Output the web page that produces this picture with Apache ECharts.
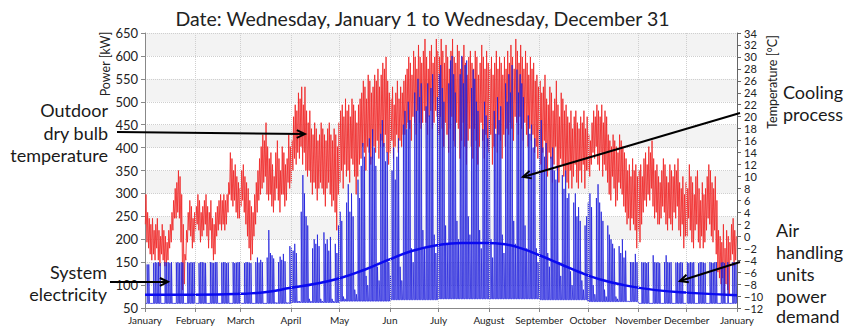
<!DOCTYPE html>
<html><head><meta charset="utf-8">
<script src="https://cdn.jsdelivr.net/npm/echarts@6/dist/echarts.min.js"></script>
<style>html,body{margin:0;padding:0;background:#fff}#c{width:845px;height:327px}</style>
</head><body><div id="c"></div>
<script>
const monthStarts=[0,31,59,90,120,151,181,212,243,273,304,334,365];
const monthLabels=['January','February','March','April','May','Jun','July','August','September','October','November','December','January'];

// Outdoor dry bulb temperature, daily high / low [°C]
const tempHigh=[
7,4,3,2,3,1,2,3,1,0,2,1,0,-1,1,2,4,6,8,9,11,10,7,2,-3,1,4,6,5,3,4,
5,7,6,4,5,6,7,5,4,6,3,2,4,5,6,7,6,7,6,7,9,14,13,11,12,10,9,8,
11,12,10,9,8,6,5,4,7,9,11,13,15,17,16,19,15,13,14,12,10,14,16,13,11,15,14,12,13,17,15,
16,20,22,21,24,23,25,22,25,21,19,21,18,17,19,18,16,17,19,18,17,16,18,19,17,16,18,17,15,19,
21,22,20,23,21,22,20,23,22,21,19,22,23,24,26,25,23,27,26,24,25,27,26,28,25,27,29,28,30,26,24,
23,25,22,24,26,23,25,24,26,27,28,30,29,27,31,30,28,32,30,29,31,33,30,28,31,32,29,30,33,31,
30,33,31,29,32,30,28,31,33,30,29,32,31,28,30,32,29,27,30,31,29,28,31,30,27,29,32,30,28,31,29,
28,30,27,29,31,28,30,29,27,30,28,31,29,32,30,28,33,31,29,32,30,28,31,29,27,30,28,29,26,27,25,
26,24,25,27,23,22,25,24,21,23,26,22,20,24,23,21,22,20,19,21,18,20,21,19,18,20,19,21,18,20,
17,16,19,21,20,22,21,20,22,19,21,20,17,16,15,17,16,15,14,17,16,15,14,13,11,12,10,13,11,12,10,
11,12,10,13,14,12,15,14,16,13,11,12,10,9,11,13,12,10,9,12,11,10,12,11,13,9,8,10,7,9,
8,12,10,9,7,10,11,8,6,9,7,8,10,12,11,9,8,10,6,1,0,-1,2,-2,1,0,-1,2,3,1,0];
const tempLow=[
2,-1,-2,-3,-4,-3,-4,-2,-4,-5,-3,-4,-5,-5,-4,-2,-1,1,3,3,4,3,-1,-9,-8,-4,-1,1,0,-2,-1,
1,2,1,-1,0,1,2,0,-2,1,-2,-4,-3,0,1,2,1,2,1,2,4,7,6,5,6,4,3,3,
5,6,4,2,0,-2,-4,-3,0,2,4,6,7,8,9,10,7,6,7,5,4,6,8,6,4,7,7,5,6,9,8,
9,11,13,12,14,13,15,12,14,11,10,11,9,7,9,8,6,8,9,8,7,5,8,9,7,5,6,4,1,7,
9,11,8,12,10,11,9,13,12,10,7,10,12,13,15,14,11,15,14,12,13,15,14,16,13,15,16,15,17,14,12,
14,16,13,15,17,14,16,15,17,17,18,19,18,16,20,19,17,21,19,18,19,21,19,17,20,21,18,19,21,20,
17,20,18,15,19,17,14,18,20,16,15,19,18,13,16,19,15,12,16,18,15,13,18,16,12,15,19,16,13,17,15,
14,17,12,15,18,14,17,16,13,17,15,18,17,19,18,16,20,19,17,20,18,16,19,17,15,18,16,17,14,15,13,
15,12,14,16,11,10,14,13,9,12,15,11,9,13,12,10,11,9,8,11,8,10,12,9,8,11,9,12,8,11,
11,10,12,14,13,15,12,11,14,10,12,11,9,7,6,10,8,5,6,9,8,7,5,4,2,3,1,3,2,1,-2,
1,-1,2,4,6,5,7,6,8,5,3,4,2,2,3,5,4,2,1,3,2,1,4,3,5,1,0,2,-2,0,
0,3,1,-1,-2,1,2,-1,-2,0,-2,-1,1,3,2,0,-1,1,-3,-6,-7,-8,-7,-10,-8,-9,-10,-4,-3,-5,-4];

// Air handling units power demand, daily peak [kW] (Jan 1 = Wednesday)
const powerPeak=[
60,145,145,60,60,
148,150,149,150,148,60,60, 150,149,150,148,150,60,60, 149,150,148,150,149,60,60, 150,148,150,149,150,60,60,
148,150,150,149,148,60,60, 150,149,148,150,150,60,60, 149,150,150,148,149,60,60, 150,148,149,150,150,60,60,
148,150,150,149,148,60,60, 150,160,149,155,150,60,60, 160,220,170,165,158,62,62, 150,162,155,168,152,62,62,
185,180,175,190,170,65,65, 260,340,300,250,230,70,65, 180,200,190,210,185,70,65, 215,190,200,175,205,70,65,
190,170,230,260,240,75,70, 280,320,260,300,250,90,80, 330,290,360,410,380,120,100, 420,380,440,400,360,140,110,
430,460,410,370,390,150,120, 350,400,330,380,420,140,110, 450,480,440,500,460,180,150, 520,480,550,510,540,220,180,
490,540,470,530,560,210,170, 510,560,580,530,500,230,190, 540,590,600,560,520,240,200, 560,600,540,580,590,250,210,
530,570,550,500,480,220,180, 440,500,470,420,460,200,160, 480,430,510,460,490,210,170, 540,500,560,520,580,240,190,
570,520,560,540,510,230,180, 470,430,450,400,420,180,150, 440,460,400,380,410,170,140, 380,400,350,330,360,150,120,
340,310,350,290,300,130,100, 280,300,250,270,240,110,90, 230,250,280,300,270,100,80, 290,320,280,260,240,90,75,
230,210,200,190,180,75,70, 185,170,200,160,175,65,62, 150,150,150,168,150,60,60, 150,149,150,148,150,60,60,
165,150,149,150,148,60,60, 150,165,150,149,150,60,60, 149,150,148,150,149,60,60, 150,148,150,149,150,60,60,
148,150,150,149,148,60,60, 150,149,148,150,150,60,60, 149,150,148,60,150,60,60,
150,150,148];
// night-time base load per month [kW]
const powerBase=[60,60,60,62,65,68,70,70,68,64,60,60];

// System electricity, smoothed [kW]
const avgDays=[0,30,60,75,90,105,120,135,150,165,180,195,210,222,232,244,256,268,280,295,315,336,365];
const avgPower=[79,79,81,85,94,103,115,133,155,175,187,192,192,189,180,164,146,128,113,100,89,83,78];

function monthOf(d){let m=0;while(m<11&&d>=monthStarts[m+1])m++;return m;}
const tempData=[];
for(let d=0;d<365;d++){tempData.push([d+0.2,tempLow[d]]);tempData.push([d+0.62,tempHigh[d]]);}
const powerData=[];
for(let d=0;d<365;d++){
  const b=powerBase[monthOf(d)],p=powerPeak[d];
  if(p>b){powerData.push([d+0.28,b],[d+0.32,p],[d+0.74,p],[d+0.78,b]);}
  else powerData.push([d+0.5,b]);
}
const avgData=avgDays.map((d,i)=>[d,avgPower[i]]);

const FONT='Lato';
const chart=echarts.init(document.getElementById('c'),null,{renderer:'svg'});
chart.setOption({
  animation:false,
  textStyle:{fontFamily:FONT},
  title:{text:'Date: Wednesday, January 1 to Wednesday, December 31',left:'center',top:3,
    textStyle:{fontFamily:FONT,fontSize:19.5,fontWeight:'normal',color:'#222'}},
  grid:{left:145,right:108,top:33,bottom:19},
  xAxis:{type:'value',min:0,max:365,
    axisLine:{show:true,onZero:false,lineStyle:{color:'#888'}},
    axisTick:{show:true,length:4,customValues:monthStarts,lineStyle:{color:'#888'}},
    axisLabel:{customValues:monthStarts,fontSize:10,color:'#222',margin:7,hideOverlap:false,
      formatter:v=>{const i=monthStarts.indexOf(Math.round(v));return i>=0?monthLabels[i]:'';}},
    splitLine:{show:false}},
  yAxis:[
    {type:'value',min:50,max:650,interval:50,position:'left',
      axisLine:{show:true,lineStyle:{color:'#888'}},
      axisTick:{show:true,length:4,lineStyle:{color:'#888'}},
      axisLabel:{fontSize:13,color:'#222',margin:7},
      splitLine:{show:true,lineStyle:{color:'#cfcfcf',type:'dotted'}},
      splitArea:{show:true,areaStyle:{color:['#ffffff','#f3f3f3']}}},
    {type:'value',min:-12,max:34,interval:2,position:'right',
      axisLine:{show:true,onZero:false,lineStyle:{color:'#666'}},
      axisTick:{show:true,length:4,lineStyle:{color:'#666'}},
      axisLabel:{fontSize:11,lineHeight:11,color:'#222',margin:7,showMinLabel:true,showMaxLabel:true,hideOverlap:false,
        formatter:v=>String(v).replace('-','\u2212')},
      splitLine:{show:false}}
  ],
  series:[
    {type:'line',data:[],z:1,silent:true,
      markLine:{silent:true,symbol:'none',label:{show:false},
        lineStyle:{color:'#cfcfcf',type:'dotted',width:1},
        data:monthStarts.slice(1,12).map(d=>({xAxis:d}))}},
    {name:'Outdoor dry bulb temperature',type:'line',yAxisIndex:1,data:tempData,showSymbol:false,symbol:'none',
      lineStyle:{color:'#f02828',width:1,opacity:0.85},z:2},
    {name:'Air handling units power demand',type:'line',yAxisIndex:0,data:powerData,showSymbol:false,symbol:'none',
      lineStyle:{color:'#2020dd',width:1,opacity:0.78},z:3},
    {name:'System electricity',type:'line',yAxisIndex:0,data:avgData,smooth:0.5,showSymbol:false,symbol:'none',
      lineStyle:{color:'#0a0af0',width:2.5},z:4}
  ]
});

// annotations
const tips={
  outdoor:chart.convertToPixel({xAxisIndex:0,yAxisIndex:1},[98.6,17.1]),
  cooling:chart.convertToPixel({xAxisIndex:0,yAxisIndex:0},[233,336]),
  system:chart.convertToPixel({xAxisIndex:0,yAxisIndex:0},[14.2,107]),
  ahu:chart.convertToPixel({xAxisIndex:0,yAxisIndex:0},[329.8,109])
};
function arrow(x1,y1,tip){
  const [x2,y2]=tip,a=Math.atan2(y2-y1,x2-x1),L=9,s=0.45;
  return [
    {type:'line',shape:{x1,y1,x2,y2},style:{stroke:'#000',lineWidth:2},z:100},
    {type:'polyline',shape:{points:[[x2-L*Math.cos(a-s),y2-L*Math.sin(a-s)],[x2,y2],[x2-L*Math.cos(a+s),y2-L*Math.sin(a+s)]]},
      style:{stroke:'#000',lineWidth:2,fill:null},z:100}
  ];
}
function txt(x,y,t,align){
  return {type:'text',x,y,z:100,style:{text:t,align:align,verticalAlign:'middle',fontFamily:FONT,fontSize:18,fill:'#1a1a1a'}};
}
const g=[];
g.push(...arrow(117,132,tips.outdoor),...arrow(740,113,tips.cooling),...arrow(110,282,tips.system),...arrow(740,262,tips.ahu));
g.push(txt(108,110,'Outdoor','right'),txt(108,133,'dry bulb','right'),txt(108,155,'temperature','right'));
g.push(txt(107,272,'System','right'),txt(107,294,'electricity','right'));
g.push(txt(783,92,'Cooling','left'),txt(783,114,'process','left'));
g.push(txt(776,230,'Air','left'),txt(776,252,'handling','left'),txt(776,274,'units','left'),txt(776,296,'power','left'),txt(776,316,'demand','left'));
g.push({type:'text',x:105,y:64,rotation:Math.PI/2,z:100,style:{text:'Power [kW]',align:'center',verticalAlign:'middle',fontFamily:FONT,fontSize:12.5,fill:'#222'}});
g.push({type:'text',x:772,y:82,rotation:Math.PI/2,z:100,style:{text:'Temperature [\u00B0C]',align:'center',verticalAlign:'middle',fontFamily:FONT,fontSize:12.5,fill:'#222'}});
chart.setOption({graphic:g});
</script></body></html>
